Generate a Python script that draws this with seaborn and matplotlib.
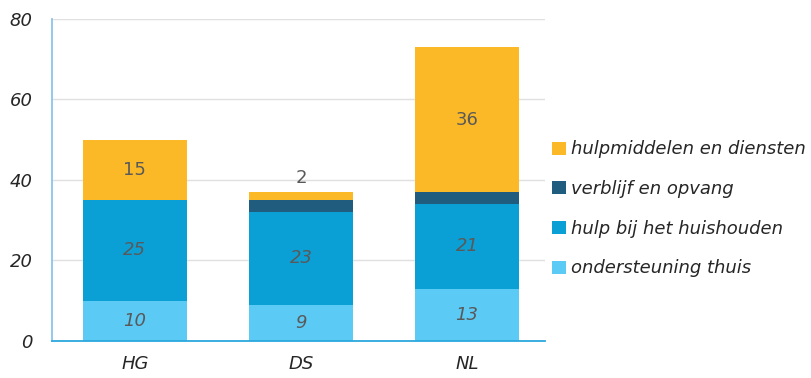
import matplotlib
matplotlib.use("Agg")
import matplotlib.pyplot as plt
import seaborn as sns
import pandas as pd
import numpy as np

categories = ["HG", "DS", "NL"]
series_names = ["ondersteuning thuis", "hulp bij het huishouden",
                "verblijf en opvang", "hulpmiddelen en diensten"]
ondersteuning = [10, 9, 13]
huishouden = [25, 23, 21]
verblijf = [0, 3, 3]
hulpmiddelen = [15, 2, 36]
y_ticks = [0, 20, 40, 60, 80]

colors = ["#5BCBF5", "#0BA0D5", "#1F5C7E", "#FBB927"]
label_italic = [True, True, None, False]

values = [ondersteuning, huishouden, verblijf, hulpmiddelen]
cum = np.cumsum(np.array(values, dtype=float), axis=0)

sns.set_style("white")
plt.rcParams["font.family"] = ["DejaVu Sans"]

fig = plt.figure(figsize=(8.11, 3.78), dpi=100)
ax = fig.add_axes([0.064, 0.098, 0.608, 0.852])

# draw tallest cumulative stack first so lower segments sit on top
for i in range(len(values) - 1, -1, -1):
    df = pd.DataFrame({"cat": categories, "val": cum[i]})
    sns.barplot(data=df, x="cat", y="val", color=colors[i], width=0.627,
                saturation=1, ax=ax, label=series_names[i], zorder=2,
                linewidth=0, edgecolor="none")

# value labels
for i, seg in enumerate(values):
    if label_italic[i] is None:
        continue
    style = "italic" if label_italic[i] else "normal"
    for j, v in enumerate(seg):
        if v == 0:
            continue
        base = cum[i][j] - v
        if v < 4:
            y = cum[i][j] + 1.3
            va = "bottom"
        else:
            y = base + v / 2
            va = "center"
        ax.text(j, y, f"{v}", ha="center", va=va, fontsize=13,
                color="#595959", fontstyle=style, zorder=5)

ax.set_ylim(0, 80)
ax.set_xlim(-0.5, 2.47)
ax.set_yticks(y_ticks)
ax.set_yticklabels([str(t) for t in y_ticks], fontstyle="italic",
                   fontsize=13, color="#262626")
ax.set_xticks(range(len(categories)))
ax.set_xticklabels(categories, fontstyle="italic", fontsize=13,
                   color="#262626")
ax.tick_params(axis="both", length=0)
ax.tick_params(axis="y", pad=14)
ax.tick_params(axis="x", pad=10)
ax.set_xlabel("")
ax.set_ylabel("")
ax.yaxis.grid(True, color="#E0E0E0", linewidth=1)
ax.set_axisbelow(True)
for s in ["top", "right"]:
    ax.spines[s].set_visible(False)
ax.spines["left"].set_color("#8CC4EA")
ax.spines["left"].set_linewidth(1.3)
ax.spines["bottom"].set_color("#2CA8DE")
ax.spines["bottom"].set_linewidth(1.3)

handles, labels = ax.get_legend_handles_labels()
leg = ax.legend(handles, labels, loc="center left",
                bbox_to_anchor=(1.0, 0.41), frameon=False,
                prop={"style": "italic", "size": 13},
                handlelength=0.75, handleheight=0.75, handletextpad=0.3,
                labelspacing=1.2, borderaxespad=0.0)
for t in leg.get_texts():
    t.set_color("#262626")

fig.savefig("out.png", dpi=100)
